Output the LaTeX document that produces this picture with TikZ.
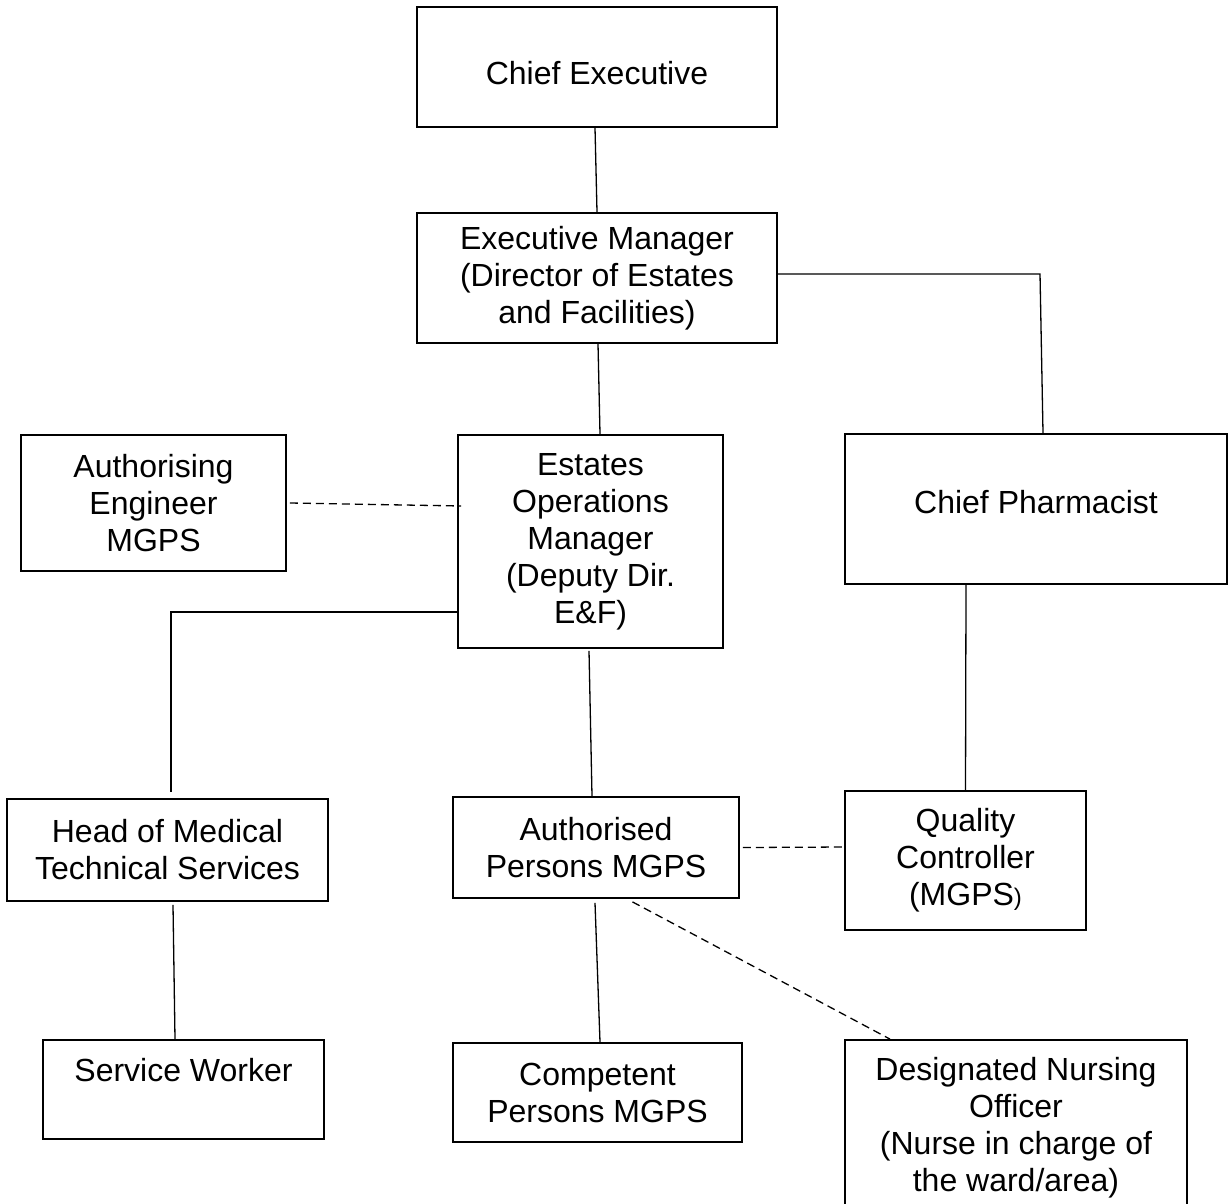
\documentclass[tikz,border=0pt]{standalone}
\usepackage{fontspec}
\setmainfont{Liberation Sans}
\begin{document}
\begin{tikzpicture}[x=0.5pt,y=-0.5pt,
  box/.style={draw, line width=0.9pt, inner sep=0pt, align=center,
    font=\fontsize{16pt}{18.5pt}\selectfont},
  link/.style={line width=0.65pt},
  dashlink/.style={line width=0.65pt, dash pattern=on 4pt off 2.5pt}]
\useasboundingbox (0,0) rectangle (1229,1203);

% boxes
\node[box, minimum width=180pt, minimum height=60pt, text height=17.4pt, text depth=0pt] (ce) at (597,67) {Chief Executive};
\node[box, minimum width=180pt, minimum height=65pt] (em) at (597,278)
  {Executive Manager\\(Director of Estates\\and Facilities)};
\node[box, minimum width=132.5pt, minimum height=68pt] (ae) at (153.5,503)
  {Authorising\\Engineer\\MGPS};
\node[box, minimum width=132.5pt, minimum height=106.5pt] (eom) at (590.5,541.5)
  {Estates\\Operations\\Manager\\(Deputy Dir.\\E\&F)};
\node[box, minimum width=191pt, minimum height=75pt, text height=11.5pt, text depth=7.1pt] (cp) at (1036,509) {Chief Pharmacist};
\node[box, minimum width=160.5pt, minimum height=51pt] (hmt) at (167.5,850)
  {Head of Medical\\Technical Services};
\node[box, minimum width=143pt, minimum height=50.5pt] (ap) at (596,847.5)
  {Authorised\\Persons MGPS};
\node[box, minimum width=120.5pt, minimum height=69.5pt] (qc) at (965.5,860.5)
  {Quality\\Controller\\(MGPS{\fontsize{12pt}{14pt}\selectfont)}};
\node[box, minimum width=140.5pt, minimum height=49.5pt, text height=11.5pt, text depth=20pt] (sw) at (183.5,1089.5) {Service Worker};
\node[box, minimum width=144.5pt, minimum height=49.5pt] (cpm) at (597.5,1092.5)
  {Competent\\Persons MGPS};
\node[box, minimum width=171pt, minimum height=87.5pt] (dno) at (1016,1127.5)
  {Designated Nursing\\Officer\\(Nurse in charge of\\the ward/area)};

% corner points
\coordinate (k1) at (1040,274);
\coordinate (k2) at (171,612);

% solid connectors
\draw[link] ([xshift=-1pt]ce.south) -- (em.north);
\draw[link] ([yshift=2pt]em.east) -- (k1) -- ([xshift=3.5pt]cp.north);
\draw[link] ([xshift=0.5pt]em.south) -- ([xshift=4.75pt]eom.north);
\draw[link] ([yshift=-35.25pt]eom.west) -- (k2) -- ([xshift=1.75pt,yshift=3pt]hmt.north);
\draw[link] ([xshift=-0.75pt,yshift=-1pt]eom.south) -- ([xshift=-2pt]ap.north);
\draw[link] ([xshift=-35pt]cp.south) -- (qc.north);
\draw[link] ([xshift=-0.5pt,yshift=-2pt]ap.south) -- ([xshift=1.25pt]cpm.north);
\draw[link] ([xshift=2.75pt,yshift=-1.5pt]hmt.south) -- ([xshift=-4.25pt]sw.north);

% dashed connectors
\draw[dashlink] ([xshift=1.5pt]ae.east) -- ([xshift=2pt,yshift=17.75pt]eom.west);
\draw[dashlink] ([xshift=1.5pt]ap.east) -- ([yshift=6.75pt]qc.west);
\draw[dashlink] ([xshift=18.25pt,yshift=-1.5pt]ap.south) -- ([xshift=-63pt]dno.north);
\end{tikzpicture}
\end{document}
